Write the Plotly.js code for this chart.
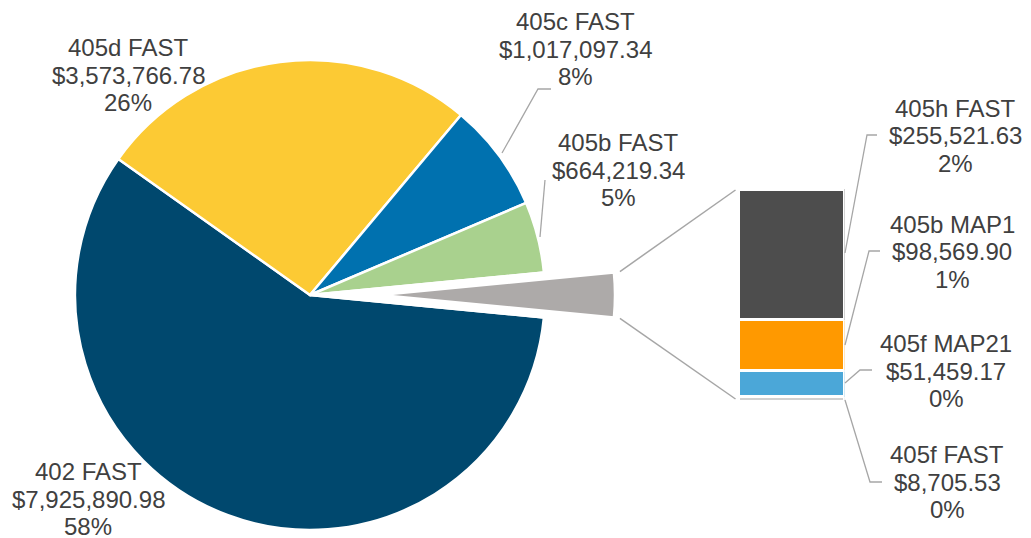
<!DOCTYPE html>
<html>
<head>
<meta charset="utf-8">
<script src="https://cdn.plot.ly/plotly-3.0.1.min.js"></script>
<style>html,body{margin:0;padding:0;background:#fff;}#chart{width:1031px;height:538px;}</style>
</head>
<body>
<div id="chart"></div>
<script>
// ---- data ----
const mainNames = ['402 FAST', '405d FAST', '405c FAST', '405b FAST'];
const mainValues = [7925890.98, 3573766.78, 1017097.34, 664219.34];
const mainPct = ['58%', '26%', '8%', '5%'];
const barNames = ['405h FAST', '405b MAP1', '405f MAP21', '405f FAST'];
const barValues = [255521.63, 98569.90, 51459.17, 8705.53];
const barPct = ['2%', '1%', '0%', '0%'];

// ---- styles ----
const mainColors = ['#00486E', '#FCCA34', '#0071AF', '#A9D18E'];
const otherColor = '#ADAAA9';
const barColors = ['#4D4D4D', '#FF9900', '#4BA7D8', '#D0D0D0'];
const W = 1031, H = 538;
const txt = '#404040';
const lineCol = '#A6A6A6';
const FONT = 'Liberation Sans, Arial, sans-serif';
const FSIZE = 24, LSP = 27.5;

const otherValue = barValues.reduce((a, b) => a + b, 0);
const total = mainValues.reduce((a, b) => a + b, 0) + otherValue;
const pieValues = mainValues.concat([otherValue]);
const pieLabels = mainNames.concat(['Other']);
const rotation = 90 + (otherValue / total) * 180;

const px = x => x / W;
const py = y => 1 - y / H;
const fmt = v => '$' + v.toLocaleString('en-US', {minimumFractionDigits: 2, maximumFractionDigits: 2});

// pie geometry (pixels)
const pie = {cx: 310, cy: 295, r: 235, shift: 70};

const traces = [];
traces.push({
  type: 'pie', values: pieValues, labels: pieLabels, sort: false, direction: 'clockwise',
  rotation: rotation, textinfo: 'none', textposition: 'none', hoverinfo: 'skip', showlegend: false,
  marker: {colors: mainColors.concat(['rgba(0,0,0,0)']), line: {color: '#FFFFFF', width: 2.5}},
  domain: {x: [px(pie.cx - pie.r), px(pie.cx + pie.r)], y: [py(pie.cy + pie.r), py(pie.cy - pie.r)]}
});
traces.push({
  type: 'pie', values: pieValues, labels: pieLabels, sort: false, direction: 'clockwise',
  rotation: rotation, textinfo: 'none', textposition: 'none', hoverinfo: 'skip', showlegend: false,
  marker: {colors: mainValues.map(() => 'rgba(0,0,0,0)').concat([otherColor]),
           line: {color: mainValues.map(() => 'rgba(0,0,0,0)').concat(['#FFFFFF']), width: 2.5}},
  domain: {x: [px(pie.cx - pie.r + pie.shift), px(pie.cx + pie.r + pie.shift)], y: [py(pie.cy + pie.r), py(pie.cy - pie.r)]}
});

// stacked bar, bottom-up
for (let i = barNames.length - 1; i >= 0; i--) {
  traces.push({
    type: 'bar', x: [0], y: [barValues[i]], name: barNames[i], width: 1,
    marker: {color: barColors[i], line: {color: '#FFFFFF', width: 3}},
    hoverinfo: 'skip', showlegend: false, xaxis: 'x', yaxis: 'y'
  });
}

const bar = {left: 738.5, right: 844.5, top: 189, bottom: 401};

// labels (center x, middle-line y in pixels)
const labelPos = {
  main: [[88, 499], [128, 75], [575, 49], [618, 170]],
  bar: [[955, 136], [952, 252], [946, 371], [947, 482]]
};
const annotations = [];
function addLabel(lines, pos) {
  lines.forEach((t, k) => {
    annotations.push({
      xref: 'paper', yref: 'paper', x: px(pos[0]), y: py(pos[1] + (k - 1) * LSP),
      xanchor: 'center', yanchor: 'middle', showarrow: false, align: 'center',
      text: t, font: {family: FONT, size: FSIZE, color: txt}
    });
  });
}
mainNames.forEach((n, i) => addLabel([n, fmt(mainValues[i]), mainPct[i]], labelPos.main[i]));
barNames.forEach((n, i) => addLabel([n, fmt(barValues[i]), barPct[i]], labelPos.bar[i]));

// leader lines & connectors (pixel paths -> paper)
const pathPx = pts => pts.map((p, k) => (k ? 'L' : 'M') + px(p[0]).toFixed(5) + ',' + py(p[1]).toFixed(5)).join(' ');
const leaders = [
  [[502, 153], [538, 89], [551, 89]],
  [[540, 237], [545, 180]],
  [[845, 253], [867, 135], [877, 135]],
  [[845, 345], [869, 251], [880, 251]],
  [[845, 383], [860, 370], [872, 370]],
  [[845, 400], [870, 482], [882, 482]]
];
const shapes = leaders.map(p => ({type: 'path', xref: 'paper', yref: 'paper', path: pathPx(p), line: {color: lineCol, width: 1.3}}));
// connectors from shifted slice to bar
const a0 = (rotation - (otherValue / total) * 360) * Math.PI / 180, a1 = rotation * Math.PI / 180;
const scx = pie.cx + pie.shift;
const c0 = [scx + pie.r * Math.sin(a0) + 6, pie.cy - pie.r * Math.cos(a0) - 1];
const c1 = [scx + pie.r * Math.sin(a1) + 6, pie.cy - pie.r * Math.cos(a1) + 1];
shapes.push({type: 'path', xref: 'paper', yref: 'paper', path: pathPx([c0, [bar.left - 3, bar.top + 1]]), line: {color: lineCol, width: 1.5}});
shapes.push({type: 'path', xref: 'paper', yref: 'paper', path: pathPx([c1, [bar.left - 3, bar.bottom - 2]]), line: {color: lineCol, width: 1.5}});

const layout = {
  width: W, height: H, margin: {l: 0, r: 0, t: 0, b: 0},
  paper_bgcolor: '#FFFFFF', plot_bgcolor: 'rgba(0,0,0,0)',
  barmode: 'stack', showlegend: false,
  xaxis: {domain: [px(bar.left), px(bar.right)], range: [-0.5, 0.5], visible: false, fixedrange: true},
  yaxis: {domain: [py(bar.bottom), py(bar.top)], range: [0, otherValue], visible: false, fixedrange: true},
  annotations: annotations, shapes: shapes
};

Plotly.newPlot('chart', traces, layout, {staticPlot: true, displayModeBar: false});
</script>
</body>
</html>
